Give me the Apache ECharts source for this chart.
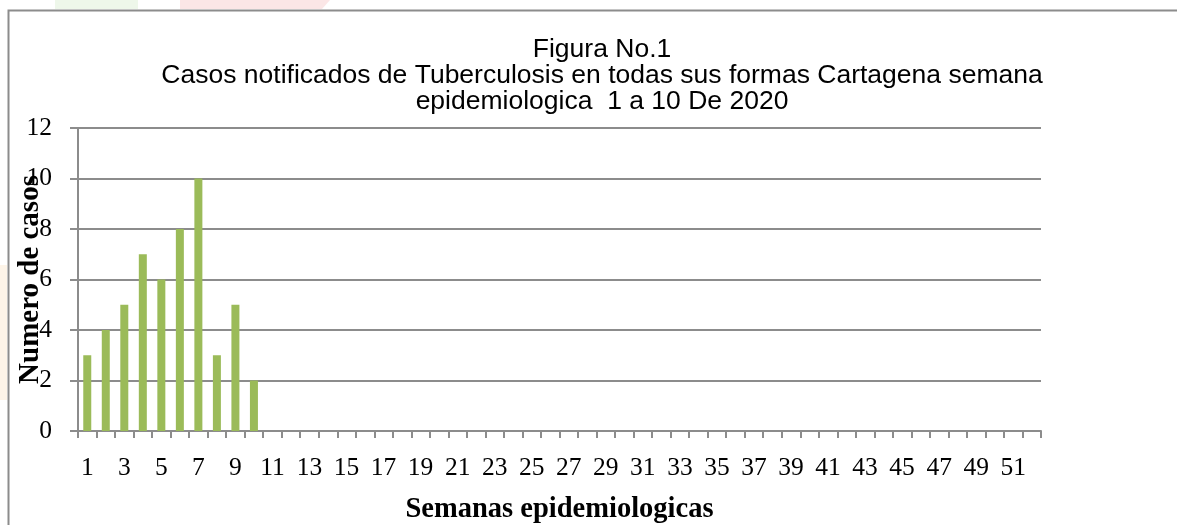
<!DOCTYPE html>
<html>
<head>
<meta charset="utf-8">
<script src="https://cdn.jsdelivr.net/npm/echarts@6/dist/echarts.min.js"></script>
<style>
html,body{margin:0;padding:0;background:#fff;}
#chart{width:1177px;height:525px;}
</style>
</head>
<body>
<div id="chart"></div>
<script>
var weeks = [];
for (var w = 1; w <= 52; w++) weeks.push(String(w));
var cases = [3, 4, 5, 7, 6, 8, 10, 3, 5, 2];
var titleLines = ['Figura No.1', 'Casos notificados de Tuberculosis en todas sus formas Cartagena semana', 'epidemiologica  1 a 10 De 2020'];
var yTitle = 'Numero de casos';
var xTitle = 'Semanas epidemiologicas';

var chart = echarts.init(document.getElementById('chart'), null, {renderer: 'canvas'});
var grey = '#8c8c8c';
chart.setOption({
  animation: false,
  backgroundColor: '#fff',
  graphic: [
    {type: 'rect', z: -10, shape: {x: 55, y: 0, width: 83, height: 9}, style: {fill: '#eef7ea'}},
    {type: 'polygon', z: -10, shape: {points: [[180, 0], [330, 0], [322, 9], [180, 9]]}, style: {fill: '#fbe6e6'}},
    {type: 'rect', z: -10, shape: {x: 0, y: 265, width: 7, height: 135}, style: {fill: '#fdf4e8'}},
    {type: 'rect', z: -5, shape: {x: 8.5, y: 10.5, width: 1300, height: 700}, style: {fill: 'none', stroke: grey, lineWidth: 2}}
  ],
  title: {
    text: titleLines.join('\n'),
    left: 597, top: 32, textAlign: 'center',
    textStyle: {fontFamily: 'Liberation Sans, Arial, sans-serif', fontSize: 26.5, fontWeight: 'normal', color: '#000', lineHeight: 26}
  },
  grid: {left: 78, right: 136, top: 128, bottom: 94, containLabel: false, outerBoundsMode: 'none'},
  xAxis: {
    type: 'category', data: weeks, boundaryGap: true,
    name: xTitle, nameLocation: 'middle', nameGap: 64, nameMoveOverlap: false,
    nameTextStyle: {fontFamily: 'Liberation Serif, serif', fontWeight: 'bold', fontSize: 28.5, color: '#000'},
    axisLine: {lineStyle: {color: grey, width: 2}},
    axisTick: {show: true, interval: 0, length: 7, lineStyle: {color: grey, width: 2}},
    axisLabel: {interval: 1, margin: 24, fontFamily: 'Liberation Serif, serif', fontSize: 25.5, color: '#000'}
  },
  yAxis: {
    type: 'value', min: 0, max: 12, interval: 2,
    name: yTitle, nameLocation: 'middle', nameGap: 33, nameRotate: 90, nameMoveOverlap: false,
    nameTextStyle: {fontFamily: 'Liberation Serif, serif', fontWeight: 'bold', fontSize: 29, color: '#000'},
    axisLine: {show: true, lineStyle: {color: grey, width: 2}},
    axisTick: {show: true, length: 8, lineStyle: {color: grey, width: 2}},
    axisLabel: {margin: 26, fontFamily: 'Liberation Serif, serif', fontSize: 25.5, color: '#000'},
    splitLine: {show: true, lineStyle: {color: grey, width: 2}}
  },
  series: [{
    type: 'bar', data: cases, barWidth: 8,
    itemStyle: {color: '#9bbb59'}
  }]
});
</script>
</body>
</html>
